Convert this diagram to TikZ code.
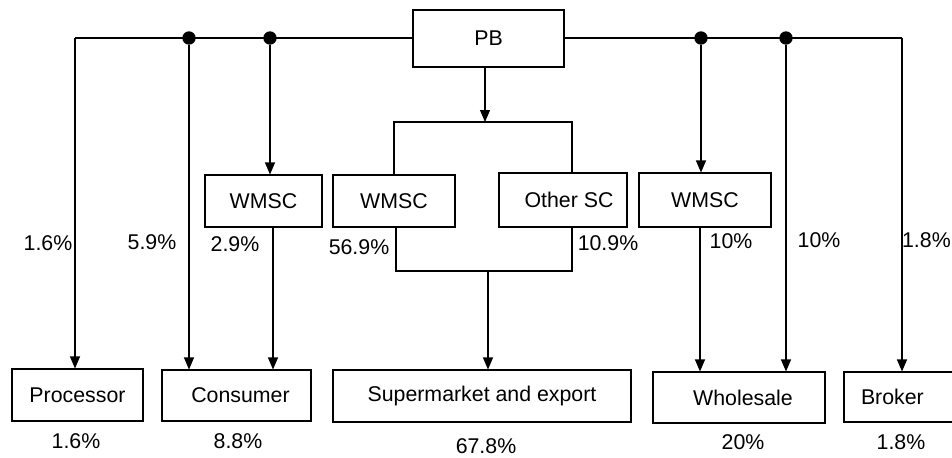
\documentclass[tikz,border=0pt]{standalone}
\usepackage{fontspec}
\setmainfont{Liberation Sans}
\usetikzlibrary{arrows.meta}
\tikzset{
  box/.style={draw, line width=0.8pt, inner sep=0pt},
  wh/.style 2 args={minimum width=#1*0.75pt, minimum height=#2*0.75pt},
  arr/.style={line width=0.8pt, -{Triangle[length=9pt, width=7.5pt]}},
  ln/.style={line width=0.8pt},
  dot/.style={circle, fill=black, minimum size=10pt, inner sep=0pt},
  lbl/.style={inner sep=0pt}
}
\begin{document}
\begin{tikzpicture}[x=0.75pt, y=-0.75pt, font=\fontsize{16}{19}\selectfont]
\useasboundingbox (0,0) rectangle (952,457);
\clip (0,0) rectangle (952,457);

% boxes
\node[box, wh={151}{57}] (pb) at (488.5,38.5) {PB};
\node[box, wh={117}{52}] (w1) at (263.5,201) {WMSC};
\node[box, wh={122}{52}] (w2) at (394,201) {WMSC};
\node[box, wh={128}{54}] (osc) at (563,200) {\hspace*{9pt}Other SC};
\node[box, wh={132}{54}] (w3) at (705,200) {WMSC};
\node[box, wh={131}{52}] (proc) at (77.5,395) {Processor};
\node[box, wh={149}{51}] (cons) at (236.5,395.5) {\hspace*{6pt}Consumer};
\node[box, wh={298}{52}] (sup) at (482,396) {Supermarket and export};
\node[box, wh={172}{51}] (whs) at (739,397.5) {\hspace*{6pt}Wholesale};
\node[box, wh={130}{50}, align=left, text width=96*0.75pt, inner xsep=17*0.75pt] (brk) at (909,397) {Broker};

% junctions
\coordinate (pl) at (75,38);
\coordinate (pr) at (902,38);
\node[dot] (d1) at (189,38) {};
\node[dot] (d2) at (270,38) {};
\node[dot] (d3) at (701,38) {};
\node[dot] (d4) at (786,38) {};

% top lines
\draw[ln] (pb.west |- pl) -- (pl);
\draw[ln] (pb.east |- pr) -- (pr);
\draw[arr] (pl) -- (pl |- proc.north);
\draw[arr] (pr) -- (pr |- brk.north);
\draw[arr] (d1) -- (d1 |- cons.north);
\draw[arr] (d2) -- (d2 |- w1.north);
\draw[arr] (d3) -- (d3 |- w3.north);
\draw[arr] (d4) -- (d4 |- whs.north);

% WMSC -> consumer / wholesale
\coordinate (c1) at (273,0);
\draw[arr] (c1 |- w1.south) -- (c1 |- cons.north);
\coordinate (c3) at (700,0);
\draw[arr] (c3 |- w3.south) -- (c3 |- whs.north);

% middle brackets
\coordinate (bt) at (485,122);
\coordinate (btl) at (394,122);
\coordinate (btr) at (572,122);
\draw[arr] (pb.south -| bt) -- (bt);
\draw[ln] (btl |- w2.north) -- (btl) -- (btr) -- (btr |- osc.north);

\coordinate (bbl) at (396,271);
\coordinate (bbr) at (572,271);
\coordinate (bb) at (488,271);
\draw[ln] (bbl |- w2.south) -- (bbl) -- (bbr) -- (bbr |- osc.south);
\draw[arr] (bb) -- (bb |- sup.north);

% flow labels
\node[lbl] (l1) at (48,243) {1.6\%};
\node[lbl] (l2) at (152,242) {5.9\%};
\node[lbl] (l3) at (235,244) {2.9\%};
\node[lbl] (l4) at (359,247) {56.9\%};
\node[lbl] (l5) at (608,243) {10.9\%};
\node[lbl] (l6) at (731,241) {10\%};
\node[lbl] (l7) at (819,240) {10\%};
\node[lbl, anchor=east] (l8) at (951,240) {1.8\%};

% totals
\node[lbl] (t1) at (76,441) {1.6\%};
\node[lbl] (t2) at (238,441) {8.8\%};
\node[lbl] (t3) at (486,446) {67.8\%};
\node[lbl] (t4) at (743,442) {20\%};
\node[lbl] (t5) at (901,442) {1.8\%};
\end{tikzpicture}
\end{document}
